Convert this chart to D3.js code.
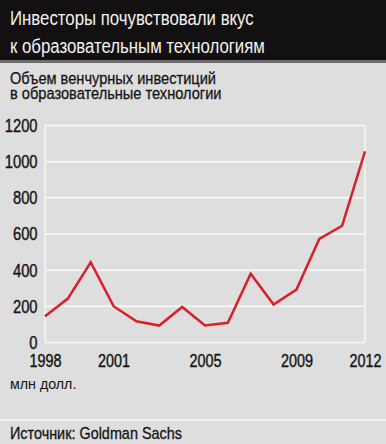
<!DOCTYPE html>
<html>
<head>
<meta charset="utf-8">
<script src="https://cdn.jsdelivr.net/npm/d3@7"></script>
<style>
  body { margin: 0; background: #dedede; }
  svg { display: block; }
  text { font-family: "Liberation Sans", Arial, sans-serif; }
</style>
</head>
<body>
<div id="chart"></div>
<script>
// venture investment in edtech, mln USD
const years = [1998, 1999, 2000, 2001, 2002, 2003, 2004, 2005, 2006, 2007, 2008, 2009, 2010, 2011, 2012];
const values = [142, 240, 441, 198, 115, 91, 194, 91, 106, 378, 207, 290, 570, 643, 1054];
const yTicks = [0, 200, 400, 600, 800, 1000, 1200];
const xTicks = [1998, 2001, 2005, 2009, 2012];

const titleLines = ["Инвесторы почувствовали вкус", "к образовательным технологиям"];
const subtitleLines = ["Объем венчурных инвестиций", "в образовательные технологии"];

const width = 386, height = 444,
      margin = { top: 125, right: 21, bottom: 102, left: 45 };

// no narrow font installed, so text is squeezed horizontally
const squeeze = k => `scale(${k},1)`;

const svg = d3.select("#chart")
    .append("svg")
    .attr("width", width)
    .attr("height", height)
    .attr("viewBox", [0, 0, width, height]);

svg.append("rect").attr("width", width).attr("height", height).attr("fill", "#dedede");

// header
svg.append("rect").attr("width", width).attr("height", 60).attr("fill", "#121010");
svg.append("rect").attr("y", 60).attr("width", width).attr("height", 3).attr("fill", "#6e6e6e");

svg.append("g").selectAll("text")
    .data(titleLines)
    .join("text")
    .attr("transform", (d, i) => `translate(10,${25 + i * 28}) ${squeeze(0.8)}`)
    .attr("fill", "#f2f2f2")
    .attr("font-size", 21)
    .text(d => d);

svg.append("g").selectAll("text")
    .data(subtitleLines)
    .join("text")
    .attr("transform", (d, i) => `translate(10,${84 + i * 15}) ${squeeze(0.86)}`)
    .attr("fill", "#151515")
    .attr("stroke", "#151515")
    .attr("stroke-width", 0.3)
    .attr("font-size", 17)
    .text(d => d);

const x = d3.scaleLinear()
    .domain([1998, 2012])
    .range([margin.left, width - margin.right]);

const y = d3.scaleLinear()
    .domain([0, 1200])
    .range([height - margin.bottom, margin.top]);

// gridlines
svg.append("g")
    .attr("transform", `translate(${margin.left},0)`)
    .call(d3.axisLeft(y).tickValues(yTicks).tickSize(-(width - margin.left - margin.right)).tickFormat(""))
    .call(g => g.select(".domain").remove())
    .call(g => g.selectAll("line").attr("stroke", "#f4f4f4").attr("stroke-width", 2));

// side frame lines
svg.append("g").selectAll("line")
    .data([1998, 2012])
    .join("line")
    .attr("x1", d => x(d)).attr("x2", d => x(d))
    .attr("y1", y(1200)).attr("y2", y(0))
    .attr("stroke", "#f4f4f4")
    .attr("stroke-width", 1.5);

// y axis labels
svg.append("g")
    .attr("transform", `translate(${margin.left - 5},0)`)
    .call(d3.axisLeft(y).tickValues(yTicks).tickFormat(d3.format("d")).tickSize(0))
    .call(g => g.select(".domain").remove())
    .call(g => g.selectAll("text")
        .attr("font-family", null)
        .attr("font-size", 18)
        .attr("fill", "#151515")
        .attr("stroke", "#151515")
        .attr("stroke-width", 0.4)
        .attr("transform", squeeze(0.82))
        .attr("dy", "0.36em"));

// x axis labels
svg.append("g")
    .attr("transform", `translate(0,${height - margin.bottom + 9})`)
    .call(d3.axisBottom(x).tickValues(xTicks).tickFormat(d3.format("d")).tickSize(0))
    .call(g => g.select(".domain").remove())
    .call(g => g.selectAll("text")
        .attr("font-family", null)
        .attr("font-size", 18)
        .attr("fill", "#151515")
        .attr("stroke", "#151515")
        .attr("stroke-width", 0.4)
        .attr("transform", squeeze(0.8))
        .attr("dy", "0.71em"));

// the line
const line = d3.line()
    .x((d, i) => x(years[i]))
    .y(d => y(d));

svg.append("path")
    .datum(values)
    .attr("fill", "none")
    .attr("stroke", "#d8202a")
    .attr("stroke-width", 2.5)
    .attr("stroke-linejoin", "miter")
    .attr("d", line);

svg.append("text")
    .attr("transform", `translate(10,389) ${squeeze(0.95)}`)
    .attr("font-size", 15)
    .attr("fill", "#151515")
    .text("млн долл.");

// footer
svg.append("rect").attr("y", 419).attr("width", width).attr("height", 2).attr("fill", "#f0f0f0");
svg.append("text")
    .attr("transform", `translate(10,439) ${squeeze(0.9)}`)
    .attr("font-size", 16)
    .attr("fill", "#151515")
    .attr("stroke", "#151515")
    .attr("stroke-width", 0.3)
    .text("Источник: Goldman Sachs");
</script>
</body>
</html>
